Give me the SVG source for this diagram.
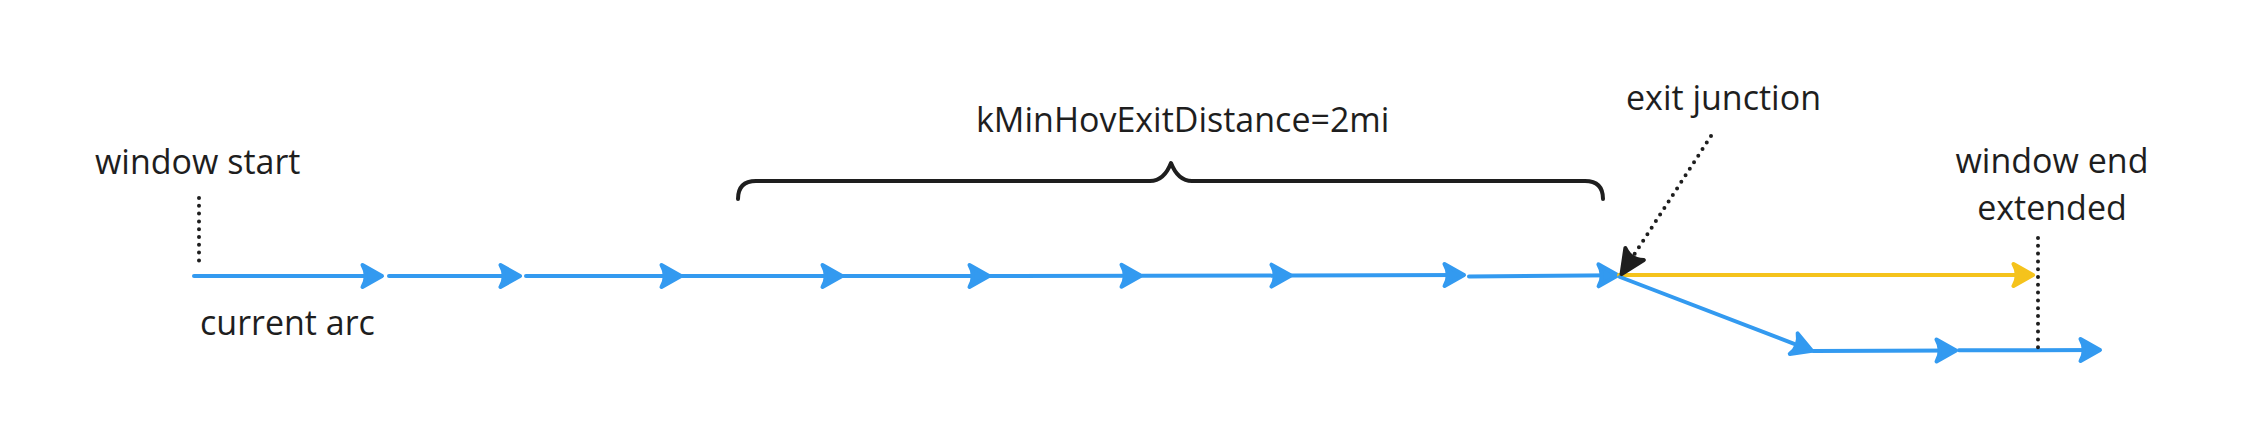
<svg xmlns="http://www.w3.org/2000/svg" width="2246" height="445" viewBox="0 0 2246 445">
  <style>
    .lbl { font-family: "Open Sans", "Noto Sans", sans-serif; font-size: 34px; fill: #1e1e1e; }
    .blue { fill: none; stroke: #339af0; stroke-width: 4; stroke-linecap: round; marker-end: url(#ahBlue); }
    .yellow { fill: none; stroke: #f5c31c; stroke-width: 4; stroke-linecap: round; marker-end: url(#ahYellow); }
    .dots { fill: none; stroke: #1e1e1e; stroke-width: 4; stroke-linecap: round; stroke-dasharray: 0 7.8; }
    .brace { fill: none; stroke: #1e1e1e; stroke-width: 4; stroke-linecap: round; stroke-linejoin: round; }
  </style>
  <defs>
    <marker id="ahBlue" markerUnits="userSpaceOnUse" viewBox="-30 -18 36 36" markerWidth="36" markerHeight="36" refX="-2" refY="0" orient="auto" overflow="visible">
      <path d="M-1,0 L-20.5,-11 Q-14,0 -20.5,11 Z" fill="#339af0" stroke="#339af0" stroke-width="4" stroke-linejoin="round"/>
    </marker>
    <marker id="ahYellow" markerUnits="userSpaceOnUse" viewBox="-30 -18 36 36" markerWidth="36" markerHeight="36" refX="-2" refY="0" orient="auto" overflow="visible">
      <path d="M-1,0 L-20.5,-11 Q-14,0 -20.5,11 Z" fill="#f5c31c" stroke="#f5c31c" stroke-width="4" stroke-linejoin="round"/>
    </marker>
    <marker id="ahBlack" markerUnits="userSpaceOnUse" viewBox="-30 -18 36 36" markerWidth="36" markerHeight="36" refX="-2" refY="0" orient="auto" overflow="visible">
      <path d="M-1,0 L-25,-11 Q-18,0 -25,11 Z" fill="#1e1e1e" stroke="#1e1e1e" stroke-width="4" stroke-linejoin="round"/>
    </marker>
  </defs>
  <rect x="0" y="0" width="2246" height="445" fill="#ffffff"/>

  <g id="connectors">
    <!-- main route -->
    <path class="blue" d="M194,276 L381,276"/>
    <path class="blue" d="M389,276 L519,276"/>
    <path class="blue" d="M526,276 L680,276"/>
    <path class="blue" d="M682,276 L841,276"/>
    <path class="blue" d="M843,276 L988,276"/>
    <path class="blue" d="M990,276 L1140,275.8"/>
    <path class="blue" d="M1142,275.8 L1290,275.6"/>
    <path class="blue" d="M1292,275.6 L1463,275"/>
    <path class="blue" d="M1469,276.6 L1617,275.2"/>
    <!-- extended (yellow) -->
    <path class="yellow" d="M1619,275 L2032,275"/>
    <!-- exit branch -->
    <path class="blue" d="M1620,277 L1811,350.3"/>
    <path class="blue" d="M1813,351 L1955,350.5"/>
    <path class="blue" d="M1959,350.3 L2099,350"/>
    <!-- pointer to exit junction -->
    <path class="dots" d="M1711,136 L1622.1,273.3" marker-end="url(#ahBlack)"/>
    <!-- window markers -->
    <path class="dots" d="M199,198 L199,268"/>
    <path class="dots" d="M2038,238 L2038,348"/>
  </g>

  <g id="brace">
    <path class="brace" d="M738,199 Q738,181 756,181 L1150,181 Q1164,181 1171,163 Q1178,181 1192,181 L1585,181 Q1603,181 1603,199"/>
  </g>

  <g id="label-window-start"><text class="lbl" x="95" y="174">window start</text></g>
  <g id="label-current-arc"><text class="lbl" x="200" y="335">current arc</text></g>
  <g id="label-distance"><text class="lbl" x="976" y="132">kMinHovExitDistance=2mi</text></g>
  <g id="label-exit-junction"><text class="lbl" x="1626" y="110">exit junction</text></g>
  <g id="label-window-end">
    <text class="lbl" x="2052" y="173" text-anchor="middle">window end</text>
    <text class="lbl" x="2052" y="220" text-anchor="middle">extended</text>
  </g>
</svg>
